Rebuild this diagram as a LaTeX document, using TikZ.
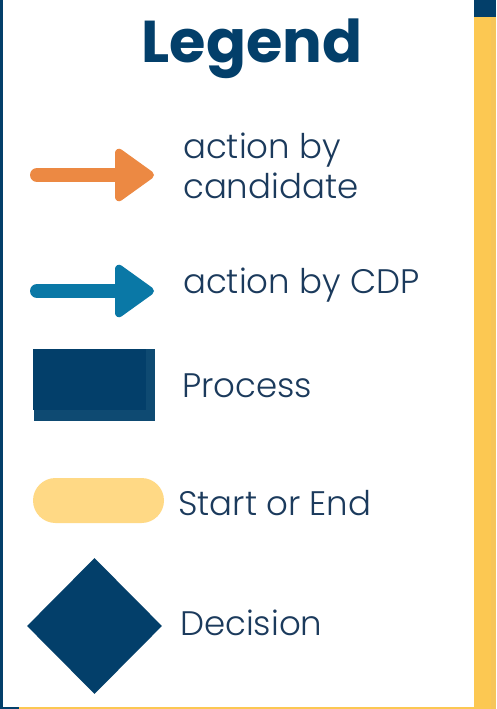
\documentclass[tikz,border=0pt]{standalone}
\usepackage{fontspec}
\setmainfont{Poppins}
\newfontfamily\lightfont{Poppins Light}
\usetikzlibrary{arrows.meta,shapes.geometric}
\definecolor{legnavy}{HTML}{033F6A}
\definecolor{legnavylite}{HTML}{0E4A72}
\definecolor{legtext}{HTML}{1B3A5C}
\definecolor{legorange}{HTML}{EC8943}
\definecolor{legblue}{HTML}{0A78A6}
\definecolor{legyellow}{HTML}{FCC852}
\definecolor{legyellowdk}{HTML}{F6C55A}
\definecolor{legpale}{HTML}{FFD985}
\begin{document}
\begin{tikzpicture}[x=1pt,y=-1pt,
  lbl/.style={anchor=base west,inner sep=0pt,text=legtext,
    font=\lightfont\fontsize{34}{40}\selectfont},
  candarrow/.style={draw=legorange,line width=14pt,line cap=round,
    -{Triangle[length=42pt,width=58pt,line width=8pt,round]}},
  cdparrow/.style={candarrow,draw=legblue},
  procbox/.style={rectangle,fill=legnavylite,minimum width=121pt,
    minimum height=72pt,inner sep=0pt},
  termbox/.style={rectangle,rounded corners=22.5pt,fill=legpale,
    minimum width=131pt,minimum height=45pt,inner sep=0pt},
  decbox/.style={diamond,fill=legnavy,minimum width=135pt,
    minimum height=136pt,inner sep=0pt}]
\useasboundingbox (0,0) rectangle (496,709);
% cadre
\fill[white] (0,0) rectangle (496,709);
\fill[legnavy] (0,0) rectangle (2.5,709);
\fill[legnavy] (0,706.5) rectangle (19,709);
\fill[legyellow] (19,706.5) rectangle (474,709);
\fill[legyellow] (474,17) rectangle (491,709);
\fill[legyellowdk] (491,17) rectangle (496,709);
\fill[legnavy] (474,0) rectangle (496,17);
% titre
\node[anchor=base,inner sep=0pt,text=legnavy,
  font=\fontsize{59}{60}\selectfont\bfseries] (title) at (252,63) {Legend};
% fleches
\coordinate (candA) at (37,175);
\coordinate (candB) at (154,175);
\draw[candarrow] (candA) -- (candB);
\coordinate (cdpA) at (37,291);
\coordinate (cdpB) at (154,291);
\draw[cdparrow] (cdpA) -- (cdpB);
% formes
\node[procbox] (process) at (94,385) {};
\fill[legnavy] (process.north west) rectangle ++(113,61);
\node[termbox] (term) at (98.5,500.5) {};
\node[decbox] (decision) at (94.5,626) {};
% textes
\node[lbl,align=left] (candtxt) at (183,198) {action by\\candidate};
\node[lbl] (cdptxt) at (183,293) {action by CDP};
\node[lbl] (proctxt) at (182,397) {Process};
\node[lbl] (termtxt) at (178,515) {Start or End};
\node[lbl] (dectxt) at (180,635) {Decision};
\end{tikzpicture}
\end{document}
